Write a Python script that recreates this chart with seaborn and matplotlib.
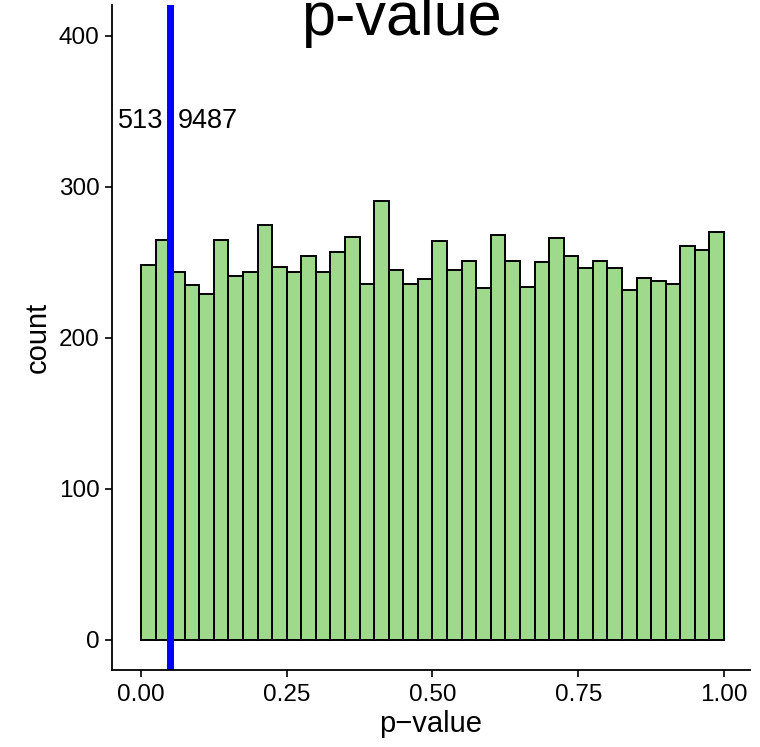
import matplotlib
matplotlib.use("Agg")
import matplotlib.pyplot as plt
import seaborn as sns
import numpy as np

sns.set_style("ticks")
plt.rcParams['font.family'] = ['Liberation Sans', 'DejaVu Sans']
plt.rcParams['text.color'] = 'black'
plt.rcParams['axes.labelcolor'] = 'black'

# data: counts per 40 bins on [0, 1]
bin_edges_lo = [i / 40 for i in range(40)]
counts = [248, 265, 244, 235, 229, 265, 241, 244, 275, 247,
          244, 254, 244, 257, 267, 236, 291, 245, 236, 239,
          264, 245, 251, 233, 268, 251, 234, 250, 266, 254,
          246, 251, 246, 232, 240, 238, 236, 261, 258, 270]
threshold = 0.05
n_below = 513
n_above = 9487
x_ticks = [0.0, 0.25, 0.5, 0.75, 1.0]
x_ticklabels = ["0.00", "0.25", "0.50", "0.75", "1.00"]
y_ticks = [0, 100, 200, 300, 400]

centers = [b + 0.0125 for b in bin_edges_lo]

fig = plt.figure(figsize=(7.6, 7.47), dpi=100)
ax = fig.add_axes([112/760, 1 - 670/747, (750-112)/760, (670-5)/747])

sns.histplot(x=centers, weights=counts, bins=40, binrange=(0, 1), ax=ax,
             color="#9fd98b", edgecolor="black", linewidth=1.4, alpha=1)

ax.axvline(threshold, color="#0000ff", linewidth=5)
ax.text(threshold - 0.012, 344, str(n_below), ha="right", va="center", fontsize=19.5)
ax.text(threshold + 0.013, 344, str(n_above), ha="left", va="center", fontsize=19.5)

ax.set_xlim(-0.0497, 1.0446)
ax.set_ylim(-19.9, 420.5)
ax.set_xticks(x_ticks)
ax.set_xticklabels(x_ticklabels)
ax.set_yticks(y_ticks)
ax.tick_params(labelsize=17.5, length=5, width=1.2, color="black", labelcolor="black")
ax.tick_params(axis="x", pad=5)
ax.tick_params(axis="y", pad=4)
ax.set_xlabel("p\u2212value", fontsize=21, labelpad=3)
ax.set_ylabel("count", fontsize=21, labelpad=5)
for s in ["top", "right"]:
    ax.spines[s].set_visible(False)
for s in ["left", "bottom"]:
    ax.spines[s].set_linewidth(1.3)
    ax.spines[s].set_color("black")

fig.text(401/760, 1 - 35/747, "p-value", ha="center", va="baseline", fontsize=44)

fig.savefig("out.png", dpi=100)
